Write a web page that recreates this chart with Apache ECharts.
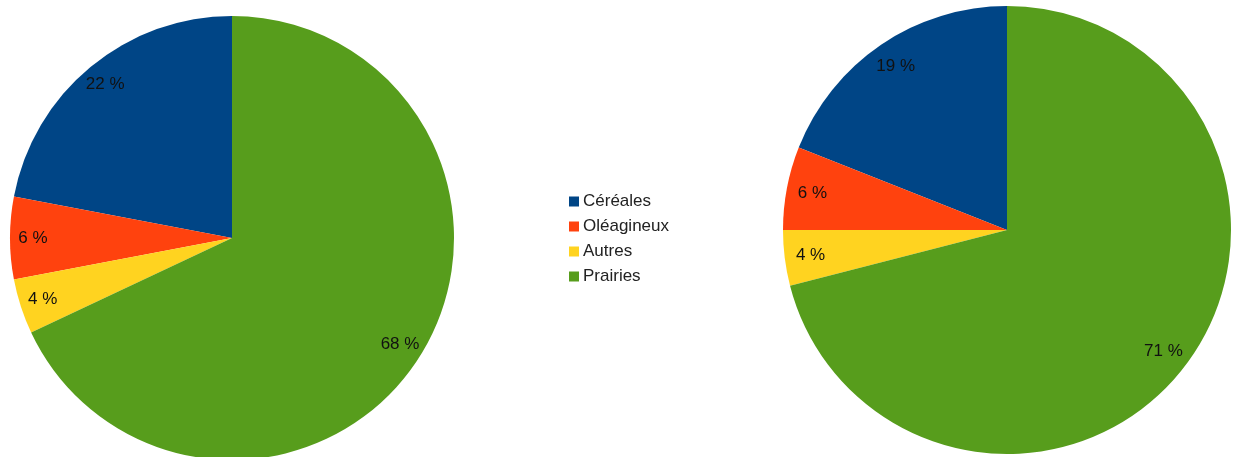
<!DOCTYPE html>
<html>
<head>
<meta charset="utf-8">
<script src="https://cdn.jsdelivr.net/npm/echarts@6/dist/echarts.min.js"></script>
<style>
html,body{margin:0;padding:0;background:#fff;}
#chart{width:1240px;height:457px;}
</style>
</head>
<body>
<div id="chart"></div>
<script>
var categories = ['Céréales', 'Oléagineux', 'Autres', 'Prairies'];
var colors = ['#004586', '#ff420e', '#ffd320', '#579d1c'];
var leftValues = [22, 6, 4, 68];
var rightValues = [19, 6, 4, 71];

function mkData(values) {
  return categories.map(function (c, i) {
    return { name: c, value: values[i], itemStyle: { color: colors[i] } };
  });
}
function mkLabelData(values) {
  return categories.map(function (c, i) {
    return { name: c, value: values[i] };
  });
}

var labelStyle = {
  show: true,
  position: 'inside',
  formatter: '{c} %',
  color: '#111',
  fontSize: 17,
  fontFamily: 'Liberation Sans, Arial, sans-serif'
};

function mainPie(center, r, values) {
  return {
    type: 'pie',
    center: center,
    radius: [0, r],
    startAngle: 90,
    clockwise: false,
    silent: true,
    animation: false,
    avoidLabelOverlap: false,
    label: { show: false },
    labelLine: { show: false },
    itemStyle: { borderWidth: 0 },
    emphasis: { disabled: true },
    data: mkData(values)
  };
}
function labelPie(center, r0, r, values) {
  return {
    type: 'pie',
    center: center,
    radius: [r0, r],
    startAngle: 90,
    clockwise: false,
    silent: true,
    animation: false,
    avoidLabelOverlap: false,
    legendHoverLink: false,
    label: labelStyle,
    labelLine: { show: false },
    itemStyle: { color: 'rgba(0,0,0,0)', borderWidth: 0 },
    emphasis: { disabled: true },
    data: mkLabelData(values)
  };
}

var chart = echarts.init(document.getElementById('chart'), null, { renderer: 'canvas' });
chart.setOption({
  backgroundColor: '#ffffff',
  animation: false,
  legend: {
    orient: 'vertical',
    left: 564,
    top: 188,
    itemWidth: 10,
    itemHeight: 10,
    itemGap: 8,
    icon: 'rect',
    selectedMode: false,
    textStyle: { fontSize: 17, color: '#222', fontFamily: 'Liberation Sans, Arial, sans-serif', padding: [0, 0, 0, -1] },
    data: categories.map(function (c, i) {
      return { name: c, itemStyle: { color: colors[i] } };
    })
  },
  series: [
    mainPie([232, 238], 222, leftValues),
    mainPie([1007, 230], 224, rightValues),
    labelPie([232, 238], 170, 222, leftValues),
    labelPie([1007, 230], 166, 224, rightValues)
  ]
});
</script>
</body>
</html>
